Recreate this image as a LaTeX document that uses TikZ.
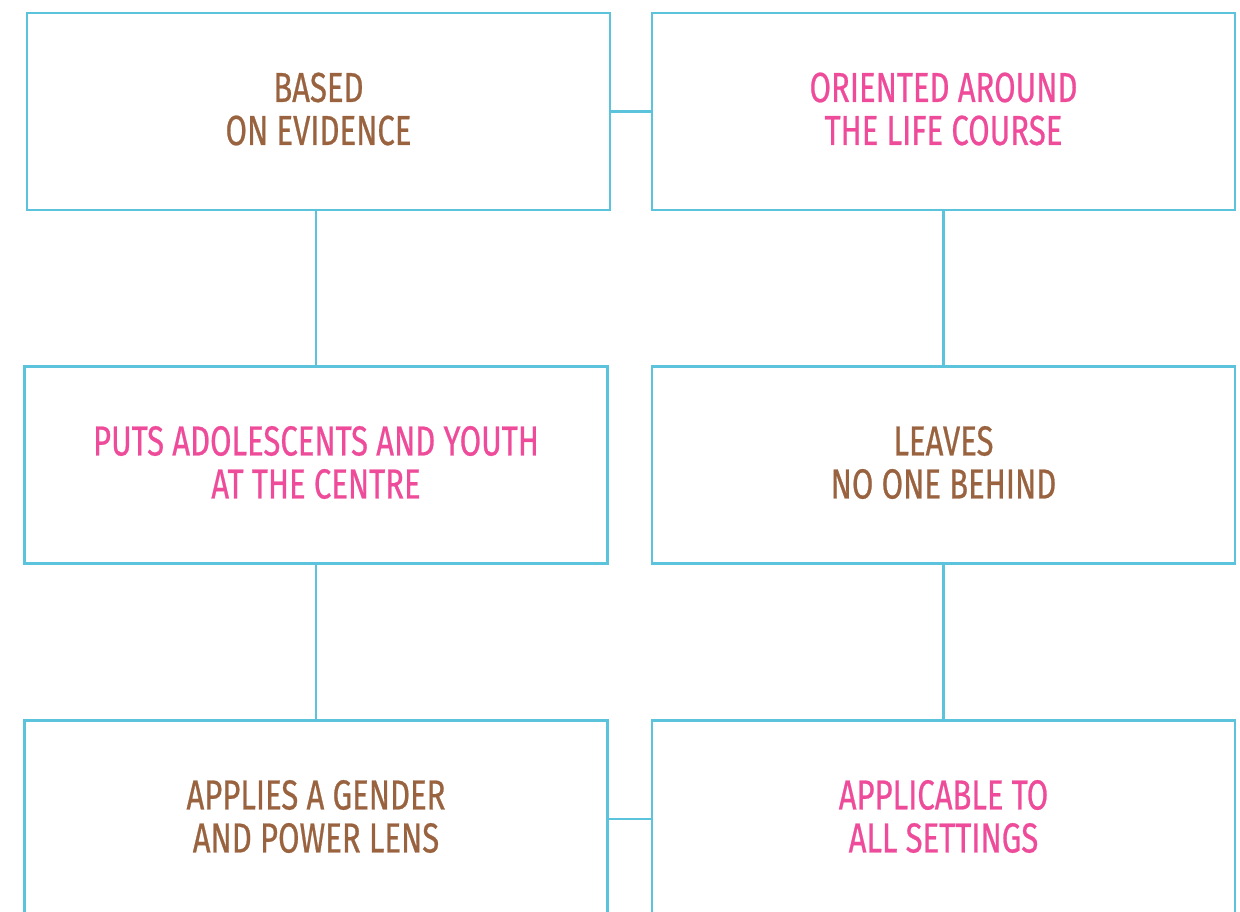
\documentclass[tikz,border=0pt]{standalone}
\usepackage{fontspec}
\setmainfont[FakeStretch=0.74,FakeBold=0.6]{Fira Sans}
\definecolor{lineblue}{HTML}{5BC4DC}
\definecolor{brownt}{HTML}{9A6340}
\definecolor{pinkt}{HTML}{EE4C9A}
\begin{document}
\begin{tikzpicture}[x=1pt,y=-1pt,
  box/.style={draw=lineblue,line width=2.2pt,rectangle,minimum width=583pt,minimum height=197pt,inner sep=0pt},
  txt/.style={inner sep=0pt,align=center,font=\fontsize{42}{43}\selectfont},
  link/.style={draw=lineblue,line width=2.2pt}]
\useasboundingbox (0,0) rectangle (1240,911);
\clip (0,0) rectangle (1240,911);
\node[box] (tl) at (318.5,111.5) {};
\node[box] (tr) at (943.5,111.5) {};
\node[box] (ml) at (316,465) {};
\node[box] (mr) at (943.5,465) {};
\node[box] (bl) at (316,819) {};
\node[box] (br) at (943.5,819) {};
\node[txt,text=brownt] (tlt) at ([yshift=2.5pt]tl.center) {BASED\\ON EVIDENCE};
\node[txt,text=pinkt] (trt) at ([yshift=2.5pt]tr.center) {ORIENTED AROUND\\THE LIFE COURSE};
\node[txt,text=pinkt] (mlt) at ([yshift=2.5pt]ml.center) {PUTS ADOLESCENTS AND YOUTH\\AT THE CENTRE};
\node[txt,text=brownt] (mrt) at ([yshift=2.5pt]mr.center) {LEAVES\\NO ONE BEHIND};
\node[txt,text=brownt] (blt) at ([yshift=2.5pt]bl.center) {APPLIES A GENDER\\AND POWER LENS};
\node[txt,text=pinkt] (brt) at ([yshift=2.5pt]br.center) {APPLICABLE TO\\ALL SETTINGS};
\draw[link] (tl.east) -- (tr.west);
\draw[link] (bl.east) -- (br.west);
\draw[link] (tl.south -| ml.north) -- (ml.north);
\draw[link] (tr.south) -- (mr.north);
\draw[link] (ml.south) -- (bl.north);
\draw[link] (mr.south) -- (br.north);
\end{tikzpicture}
\end{document}
